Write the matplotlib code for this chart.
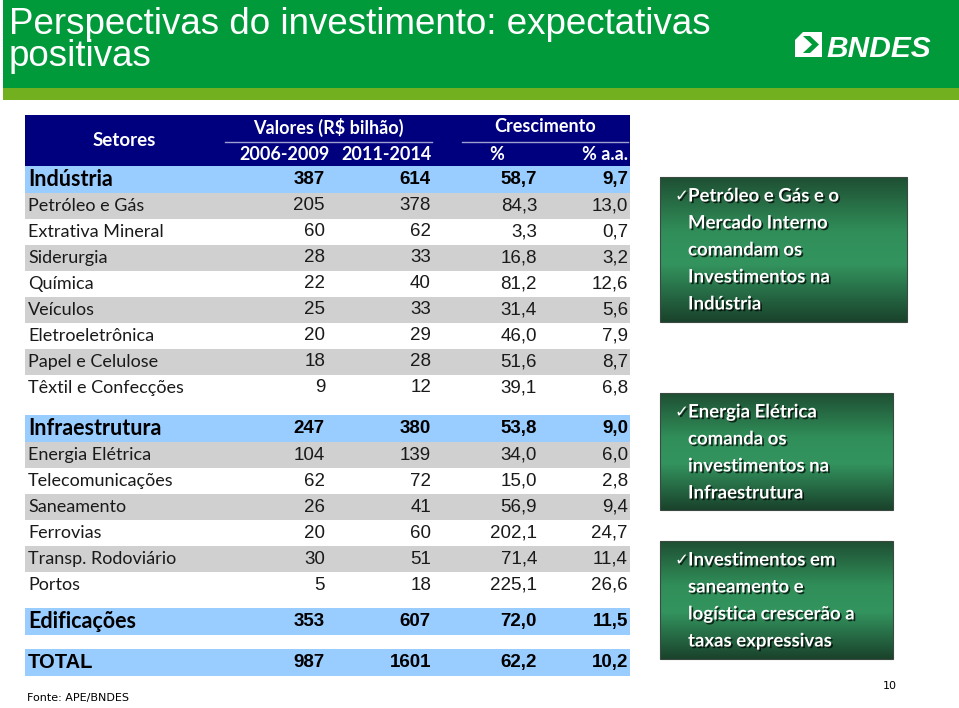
# -*- coding: utf-8 -*-
# Perspectivas do investimento - tabela BNDES recriada com matplotlib
import numpy as np
import matplotlib
matplotlib.use('Agg')
import matplotlib.pyplot as plt
from matplotlib.patches import Rectangle, Polygon
import matplotlib.patheffects as pe

# Dados da tabela
row_labels = ['Indústria', 'Petróleo e Gás', 'Extrativa Mineral', 'Siderurgia', 'Química',
              'Veículos', 'Eletroeletrônica', 'Papel e Celulose', 'Têxtil e Confecções',
              'Infraestrutura', 'Energia Elétrica', 'Telecomunicações', 'Saneamento',
              'Ferrovias', 'Transp. Rodoviário', 'Portos',
              'Edificações', 'TOTAL']
is_group = [1, 0, 0, 0, 0, 0, 0, 0, 0, 1, 0, 0, 0, 0, 0, 0, 1, 1]
val_2006_2009 = [387, 205, 60, 28, 22, 25, 20, 18, 9, 247, 104, 62, 26, 20, 30, 5, 353, 987]
val_2011_2014 = [614, 378, 62, 33, 40, 33, 29, 28, 12, 380, 139, 72, 41, 60, 51, 18, 607, 1601]
growth_pct = [58.7, 84.3, 3.3, 16.8, 81.2, 31.4, 46.0, 51.6, 39.1,
              53.8, 34.0, 15.0, 56.9, 202.1, 71.4, 225.1, 72.0, 62.2]
growth_aa = [9.7, 13.0, 0.7, 3.2, 12.6, 5.6, 7.9, 8.7, 6.8,
             9.0, 6.0, 2.8, 9.4, 24.7, 11.4, 26.6, 11.5, 10.2]

header_top = ['Valores (R$ bilhão)', 'Crescimento']
header_sub = ['2006-2009', '2011-2014', '%', '% a.a.']

callout_1 = ['Petróleo e Gás e o', 'Mercado Interno', 'comandam os', 'Investimentos na', 'Indústria']
callout_2 = ['Energia Elétrica', 'comanda os', 'investimentos na', 'Infraestrutura']
callout_3 = ['Investimentos em', 'saneamento e', 'logística crescerão a', 'taxas expressivas']

title_lines = ['Perspectivas do investimento: expectativas', 'positivas']

# cores
dark_green = '#009a3a'
light_green = '#72b01f'
navy = '#00007f'
light_blue = '#99ccff'
gray = '#d0d0d0'

narrow = ['Liberation Sans Narrow', 'Liberation Sans', 'DejaVu Sans']
calib = ['Lato', 'DejaVu Sans']


def fmt(v):
    return ('%.1f' % v).replace('.', ',')


fig = plt.figure(figsize=(9.59, 7.08), dpi=100)
ax = fig.add_axes([0, 0, 1, 1])
ax.set_xlim(0, 959)
ax.set_ylim(708, 0)
ax.axis('off')

# faixa do titulo
ax.add_patch(Rectangle((3, 0), 956, 88, color=dark_green, lw=0))
ax.add_patch(Rectangle((3, 88), 956, 12, color=light_green, lw=0))
ax.text(9, 7, '\n'.join(title_lines), color='white', fontsize=26.5,
        family=['Liberation Sans', 'DejaVu Sans'], va='top', ha='left', linespacing=0.88)

# logo BNDES
ax.add_patch(Rectangle((795, 32), 27, 25, color='white', lw=0))
ax.add_patch(Polygon([(803, 36), (810, 36), (819, 44.5), (810, 53), (803, 53), (812, 44.5)],
                     closed=True, color=dark_green, lw=0))
ax.add_patch(Polygon([(795, 32), (803, 32), (795, 40)], closed=True, color=dark_green, lw=0))
ax.text(826, 57, 'BNDES', color='white', fontsize=21.5, family=narrow, weight='bold',
        style='italic', va='baseline', ha='left')

# cabecalho da tabela
x_left, x_right = 25, 630
col_right = [325, 431, 537, 628]
ax.add_patch(Rectangle((x_left, 115), x_right - x_left, 51, color=navy, lw=0))
ax.text(124, 140, 'Setores', color='white', fontsize=13.5, family=calib, weight='bold',
        ha='center', va='center')
ax.text(328, 127, header_top[0], color='white', fontsize=13, family=calib, weight='bold',
        ha='center', va='center')
ax.text(545, 127, header_top[1], color='white', fontsize=13, family=calib, weight='bold',
        ha='center', va='center')
ax.plot([225, 432], [142, 142], color='#9fa0d0', lw=1)
ax.plot([462, 628], [142, 142], color='#9fa0d0', lw=1)
sub_x = [285, 387, 497, 628]
sub_ha = ['center', 'center', 'center', 'right']
for txt, x, ha in zip(header_sub, sub_x, sub_ha):
    ax.text(x, 154, txt, color='white', fontsize=13, family=calib, weight='bold',
            ha=ha, va='center')

# linhas da tabela
gap_before = {9: 14, 16: 10, 17: 14}
y = 166
sub_count = 0
for i, label in enumerate(row_labels):
    y += gap_before.get(i, 0)
    h = 27 if is_group[i] else 26
    if is_group[i]:
        face = light_blue
        sub_count = 0
    else:
        face = gray if sub_count % 2 == 0 else 'white'
        sub_count += 1
    ax.add_patch(Rectangle((x_left, y), x_right - x_left, h, color=face, lw=0))
    yc = y + h / 2
    vals = [str(val_2006_2009[i]), str(val_2011_2014[i]), fmt(growth_pct[i]), fmt(growth_aa[i])]
    if is_group[i]:
        if label.isupper():
            ax.text(28, yc, label, fontsize=14.5, family=narrow, weight='bold', color='black',
                    ha='left', va='center')
        else:
            ax.text(28, yc, label, fontsize=15.5, family=calib, weight='bold', color='black',
                    ha='left', va='center')
        for v, xr in zip(vals, col_right):
            ax.text(xr, yc, v, fontsize=13.5, family=narrow, weight='bold', color='black',
                    ha='right', va='center')
    else:
        ax.text(28, yc, label, fontsize=13, family=calib, color='#1a1a1a',
                ha='left', va='center')
        for v, xr in zip(vals, col_right):
            ax.text(xr, yc, v, fontsize=13.5, family=narrow, color='#1a1a1a',
                    ha='right', va='center')
    y += h

ax.text(27, 698, 'Fonte: APE/BNDES', fontsize=8, family='DejaVu Sans', color='black',
        ha='left', va='center')
ax.text(890, 686, '10', fontsize=8, family='DejaVu Sans', color='black',
        ha='center', va='center')

# caixas verdes com gradiente
stops = np.array([[0.12, 0.31, 0.20], [0.19, 0.56, 0.35], [0.20, 0.58, 0.37], [0.10, 0.26, 0.17]])
pos = np.array([0.0, 0.38, 0.6, 1.0])
t = np.linspace(0, 1, 200)
grad = np.stack([np.interp(t, pos, stops[:, k]) for k in range(3)], axis=1)[:, None, :]

boxes = [(660, 907, 177, 322, callout_1), (660, 893, 393, 510, callout_2),
         (660, 893, 541, 659, callout_3)]
shadow = [pe.SimplePatchShadow(offset=(1.2, -1.2), shadow_rgbFace='black', alpha=0.7), pe.Normal()]
for x0, x1, y0, y1, lines in boxes:
    ax.imshow(grad, extent=(x0, x1, y1, y0), origin='upper', aspect='auto', zorder=1)
    ax.add_patch(Rectangle((x0, y0), x1 - x0, y1 - y0, fill=False, ec='#3a4a40', lw=0.8, zorder=2))
    for j, line in enumerate(lines):
        yl = y0 + 19 + 27 * j
        if j == 0:
            ax.text(675, yl, '\u2713', fontsize=12, family=['DejaVu Sans'], color='white',
                    ha='left', va='center', zorder=3, path_effects=shadow)
        ax.text(688, yl, line, fontsize=13.4, family=calib, weight='bold', color='white',
                ha='left', va='center', zorder=3, path_effects=shadow)

ax.set_xlim(0, 959)
ax.set_ylim(708, 0)

fig.savefig('out.png', dpi=100)
